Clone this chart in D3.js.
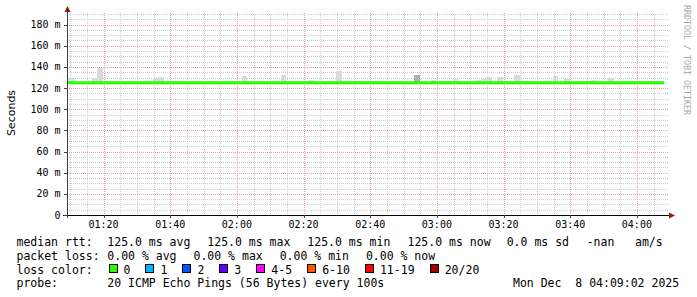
<!DOCTYPE html>
<html>
<head>
<meta charset="utf-8">
<script src="https://cdn.jsdelivr.net/npm/d3@7"></script>
<style>
  html, body { margin: 0; padding: 0; background: #fff; }
  svg text { white-space: pre; }
</style>
</head>
<body>
<div id="chart"></div>
<script>
// SmokePing style latency graph (median rtt + smoke), 3 hours window

const day = '2025-12-08';
const windowStart = '01:09:02';
const windowEnd = '04:09:02';

// median rtt line (ms)
const medianTimes = ['01:08:07', '04:08:07'];
const medianValues = [125, 125];

// smoke buckets: start of each 100s step and max rtt (ms)
const stepSeconds = 100;
const smokeTimes = ['01:08:07', '01:09:47', '01:16:27', '01:18:07', '01:34:47', '01:36:27', '01:41:27',
  '01:51:27', '02:01:27', '02:13:07', '02:14:47', '02:21:27', '02:29:47', '02:31:27', '02:34:47',
  '02:53:07', '02:58:07', '03:01:27', '03:03:07', '03:04:47', '03:11:27', '03:13:07', '03:14:47',
  '03:18:07', '03:23:07', '03:26:27', '03:34:47', '03:38:07', '03:44:47', '03:46:27', '03:51:27', '04:04:47'];
const smokeMax = [129.8, 129.8, 129.8, 139.2, 129.5, 130.5, 126.3,
  126.3, 131.3, 132.3, 126.3, 127.2, 135.7, 126.3, 126.3,
  132, 127.2, 126.3, 126.3, 128.2, 127.2, 128.8, 130.5,
  130.5, 132, 126.3, 131.3, 128.5, 126.3, 127.2, 129.5, 126.3];
const smokeDark = ['02:53:07'];

// y axis
const yTicks = [0, 20, 40, 60, 80, 100, 120, 140, 160, 180];
const yMax = 191;

// legend
const medianRow = ['125.0 ms avg', '125.0 ms max', '125.0 ms min', '125.0 ms now', '0.0 ms sd', '-nan', 'am/s'];
const lossRow = ['0.00 % avg', '0.00 % max', '0.00 % min', '0.00 % now'];
const lossLabels = ['0', '1', '2', '3', '4-5', '6-10', '11-19', '20/20'];
const lossColors = ['#26ff00', '#00b8ff', '#0059ff', '#5e00ff', '#ff00ff', '#ff5500', '#ff0000', '#a10000'];
const probeText = '20 ICMP Echo Pings (56 Bytes) every 100s';
const stampText = 'Mon Dec  8 04:09:02 2025';

const parseT = d3.timeParse('%Y-%m-%d %H:%M:%S');
const t = s => parseT(day + ' ' + s);

class SmokeGraph {

    constructor(parentElement) {
        this.parentElement = parentElement;
        this.initVis();
    }

    initVis() {
        let vis = this;

        vis.width = 697;
        vis.height = 297;
        vis.plot = {left: 67, right: 667, top: 13, bottom: 215};

        vis.svg = d3.select('#' + vis.parentElement)
            .append('svg')
            .attr('width', vis.width)
            .attr('height', vis.height)
            .style('display', 'block');

        vis.x = d3.scaleTime()
            .domain([t(windowStart), t(windowEnd)])
            .range([vis.plot.left, vis.plot.right]);

        vis.y = d3.scaleLinear()
            .domain([0, yMax])
            .range([vis.plot.bottom, vis.plot.top]);

        vis.svg.append('clipPath').attr('id', 'plotclip')
            .append('rect')
            .attr('x', vis.plot.left).attr('y', vis.plot.top)
            .attr('width', vis.plot.right - vis.plot.left)
            .attr('height', vis.plot.bottom - vis.plot.top);

        vis.updateVis();
    }

    updateVis() {
        let vis = this;
        let p = vis.plot;

        // grid: minor every 5 min / 5 ms, major every 20 min / 20 ms
        let minorX = vis.x.ticks(d3.timeMinute.every(5));
        let majorX = vis.x.ticks(d3.timeMinute.every(20));
        let minorY = d3.range(5, yMax, 5);

        let grid = vis.svg.append('g').attr('shape-rendering', 'crispEdges');

        grid.selectAll('.vminor')
            .data(minorX.filter(d => d.getMinutes() % 20 !== 0))
            .join('line')
            .attr('x1', d => Math.round(vis.x(d)) + 0.5).attr('x2', d => Math.round(vis.x(d)) + 0.5)
            .attr('y1', p.top).attr('y2', p.bottom)
            .attr('stroke', '#cccccc').attr('stroke-dasharray', '1,1');

        grid.selectAll('.hminor')
            .data(minorY.filter(d => d % 20 !== 0))
            .join('line')
            .attr('x1', p.left).attr('x2', p.right + 2)
            .attr('y1', d => Math.round(vis.y(d)) + 0.5).attr('y2', d => Math.round(vis.y(d)) + 0.5)
            .attr('stroke', '#cccccc').attr('stroke-dasharray', '1,1');

        grid.selectAll('.vmajor')
            .data(majorX)
            .join('line')
            .attr('x1', d => Math.round(vis.x(d)) + 0.5).attr('x2', d => Math.round(vis.x(d)) + 0.5)
            .attr('y1', p.top).attr('y2', p.bottom)
            .attr('stroke', '#e8a4a4').attr('stroke-dasharray', '1,1');

        grid.selectAll('.hmajor')
            .data(yTicks.filter(d => d > 0))
            .join('line')
            .attr('x1', p.left).attr('x2', p.right + 2)
            .attr('y1', d => Math.round(vis.y(d)) + 0.5).attr('y2', d => Math.round(vis.y(d)) + 0.5)
            .attr('stroke', '#e8a4a4').attr('stroke-dasharray', '1,1');

        // smoke
        let smoke = smokeTimes.map((s, i) => ({start: t(s), max: smokeMax[i], dark: smokeDark.includes(s)}));

        vis.svg.append('g')
            .attr('clip-path', 'url(#plotclip)')
            .attr('shape-rendering', 'crispEdges')
            .selectAll('rect')
            .data(smoke)
            .join('rect')
            .attr('x', d => vis.x(d.start))
            .attr('width', d => vis.x(d3.timeSecond.offset(d.start, stepSeconds)) - vis.x(d.start))
            .attr('y', d => vis.y(d.max))
            .attr('height', d => vis.y(124) - vis.y(d.max))
            .attr('fill', d => d.dark ? '#b0b0b0' : '#dadada');

        // median line
        vis.svg.append('path')
            .attr('clip-path', 'url(#plotclip)')
            .datum(medianTimes.map((s, i) => [t(s), medianValues[i]]))
            .attr('d', d3.line().x(d => vis.x(d[0])).y(d => vis.y(d[1])))
            .attr('fill', 'none')
            .attr('stroke', lossColors[0])
            .attr('stroke-width', 3);

        // axes
        let ax = vis.svg.append('g').attr('shape-rendering', 'crispEdges');
        ax.append('line')
            .attr('x1', p.left - 4).attr('x2', p.right + 2)
            .attr('y1', p.bottom + 0.5).attr('y2', p.bottom + 0.5)
            .attr('stroke', '#000');
        ax.append('line')
            .attr('x1', p.left + 0.5).attr('x2', p.left + 0.5)
            .attr('y1', p.bottom + 3).attr('y2', p.top - 2)
            .attr('stroke', '#404040');

        ax.selectAll('.ytick')
            .data(yTicks)
            .join('line')
            .attr('x1', p.left - 3).attr('x2', p.left)
            .attr('y1', d => Math.round(vis.y(d)) + 0.5).attr('y2', d => Math.round(vis.y(d)) + 0.5)
            .attr('stroke', '#404040');

        ax.selectAll('.xtick')
            .data(majorX)
            .join('line')
            .attr('x1', d => Math.round(vis.x(d)) + 0.5).attr('x2', d => Math.round(vis.x(d)) + 0.5)
            .attr('y1', p.bottom).attr('y2', p.bottom + 3)
            .attr('stroke', '#404040');

        // arrows
        vis.svg.append('path')
            .attr('d', `M${p.left - 2.5},${p.top - 1} L${p.left + 3.5},${p.top - 1} L${p.left + 0.5},${p.top - 7} Z`)
            .attr('fill', '#8b1a1a');
        vis.svg.append('path')
            .attr('d', `M${p.right + 2},${p.bottom - 2.5} L${p.right + 2},${p.bottom + 3.5} L${p.right + 8},${p.bottom + 0.5} Z`)
            .attr('fill', '#8b1a1a');

        // tick labels
        vis.svg.append('g').selectAll('text')
            .data(yTicks)
            .join('text')
            .attr('x', 60.5)
            .attr('y', d => vis.y(d) + 3.5)
            .attr('text-anchor', 'end')
            .style('font', '10px "DejaVu Sans Mono"')
            .text(d => d === 0 ? '0' : d + ' m');

        vis.svg.append('g').selectAll('text')
            .data(majorX)
            .join('text')
            .attr('x', d => vis.x(d))
            .attr('y', 228)
            .attr('text-anchor', 'middle')
            .style('font', '10px "DejaVu Sans Mono"')
            .text(d3.timeFormat('%H:%M'));

        vis.svg.append('text')
            .attr('transform', 'translate(15,113) rotate(-90)')
            .attr('text-anchor', 'middle')
            .style('font', '11px "DejaVu Sans"')
            .text('Seconds');

        vis.svg.append('text')
            .attr('transform', 'translate(684,5) rotate(90)')
            .attr('fill', '#a8a8a8')
            .style('font', '8.3px "DejaVu Sans Mono"')
            .text('RRDTOOL / TOBI OETIKER');

        // legend
        let lg = vis.svg.append('g').style('font', '11.5px "DejaVu Sans Mono"').attr('fill', '#000');
        let rows = [246, 259.5, 273.5, 287];

        lg.append('text').attr('x', 16.5).attr('y', rows[0]).text('median rtt:');
        let medX = [107.3, 207.3, 307.3, 407.5, 506.7, 586.7, 635];
        lg.selectAll('.med').data(medianRow).join('text')
            .attr('x', (d, i) => medX[i]).attr('y', rows[0]).text(d => d);

        lg.append('text').attr('x', 16.5).attr('y', rows[1]).text('packet loss:');
        lg.selectAll('.loss').data(lossRow).join('text')
            .attr('x', (d, i) => 107.3 + i * 86.2).attr('y', rows[1]).text(d => d);

        lg.append('text').attr('x', 16.5).attr('y', rows[2]).text('loss color:');
        let bx = 108.5;
        lossLabels.forEach((lab, i) => {
            lg.append('rect')
                .attr('x', bx + 0.5).attr('y', rows[2] - 9.5)
                .attr('width', 8).attr('height', 8)
                .attr('fill', lossColors[i]).attr('stroke', '#000').attr('stroke-width', 1)
                .attr('shape-rendering', 'crispEdges');
            lg.append('text').attr('x', bx + 15).attr('y', rows[2]).text(lab);
            bx += 15 + lab.length * 6.95 + 15;
        });

        lg.append('text').attr('x', 16.5).attr('y', rows[3]).text('probe:');
        lg.append('text').attr('x', 107.3).attr('y', rows[3]).text(probeText);
        lg.append('text').attr('x', 513).attr('y', rows[3]).text(stampText);
    }
}

new SmokeGraph('chart');
</script>
</body>
</html>
